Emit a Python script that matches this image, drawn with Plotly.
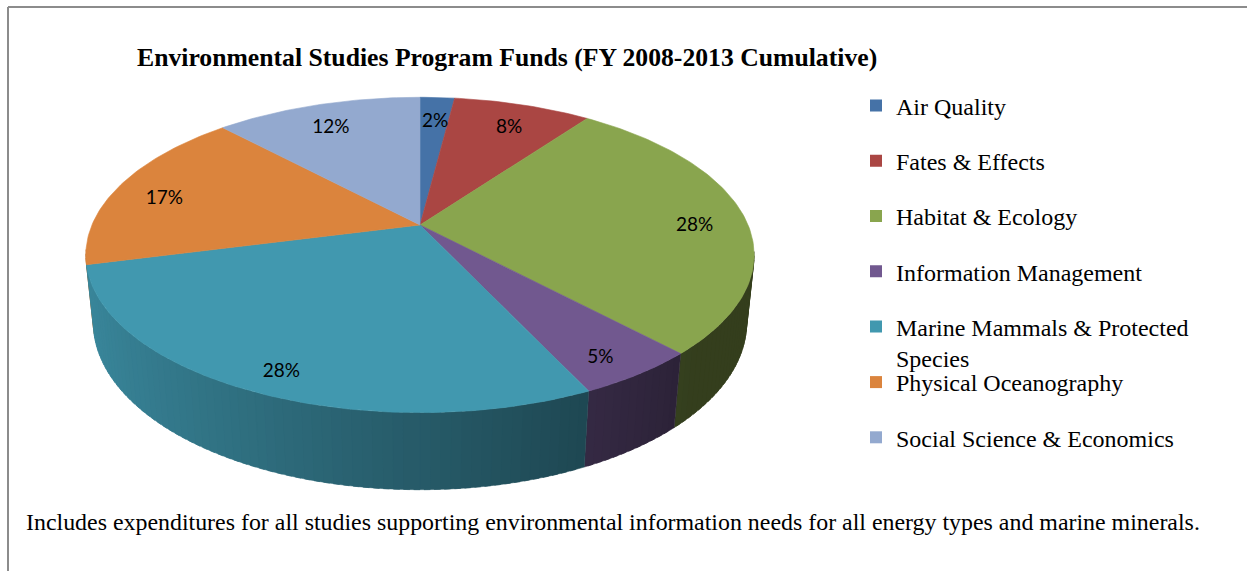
import numpy as np
import plotly.graph_objects as go

# ---------------- data ----------------
categories = ["Air Quality", "Fates & Effects", "Habitat & Ecology",
              "Information Management", "Marine Mammals & Protected Species",
              "Physical Oceanography", "Social Science & Economics"]
legend_names = ["Air Quality", "Fates & Effects", "Habitat & Ecology",
                "Information Management", "Marine Mammals & Protected<br>Species",
                "Physical Oceanography", "Social Science & Economics"]
values = [2, 8, 28, 5, 28, 17, 12]
colors = ["#4572A7", "#AA4643", "#89A54E", "#71588F", "#4198AF", "#DB843D", "#93A9CF"]

title_text = "Environmental Studies Program Funds (FY 2008-2013 Cumulative)"
note_text = ("Includes expenditures for all studies supporting environmental information "
             "needs for all energy types and marine minerals.")

# ---------------- 3-D pie projection (pixel-space axes) ----------------
W, H = 1247, 571
CX, CY = 420.0, 225.0      # projected pie centre
F = 1570.0                 # focal length
XS = 0.98                  # horizontal squeeze
D = 4.69                   # camera distance (pie radius = 1)
TILT = np.radians(27)      # viewing tilt
THICK = 0.229              # pie thickness
SA, CA = np.sin(TILT), np.cos(TILT)


def proj(X, Z, h=0.0):
    vert = Z * SA + h * CA
    depth = D - Z * CA + h * SA
    return CX + XS * F * X / depth, CY + F * vert / depth


def hex2rgb(c):
    c = c.lstrip("#")
    return [int(c[i:i + 2], 16) for i in (0, 2, 4)]


def shade(c, k):
    r, g, b = hex2rgb(c)
    return "rgb(%d,%d,%d)" % (r * k, g * k, b * k)


total = float(sum(values))
fr = np.array(values) / total
ends = np.cumsum(fr)
starts = ends - fr

fig = go.Figure()

# ---- side walls (painter's order: back to front) ----
segments = []
STEP = np.radians(1.5)
for i, (s, e) in enumerate(zip(starts, ends)):
    a0, a1 = 2 * np.pi * s, 2 * np.pi * e
    n = max(2, int(np.ceil((a1 - a0) / STEP)))
    th = np.linspace(a0, a1, n + 1)
    for j in range(n):
        t0, t1 = th[j], th[j + 1]
        tm = 0.5 * (t0 + t1)
        Zm = -np.cos(tm)
        if Zm < 0.18:
            continue
        t1e = min(t1 + 0.6 * STEP, a1)      # overlap to hide seams
        ts = np.linspace(t0, t1e, 4)
        X, Z = np.sin(ts), -np.cos(ts)
        tx, ty = proj(X, Z, 0.0)
        bx, by = proj(X, Z, THICK)
        px = list(tx) + list(bx[::-1]) + [tx[0]]
        py = list(ty) + list(by[::-1]) + [ty[0]]
        k = float(np.clip(0.6 - 0.3 * np.sin(tm), 0.38, 0.93))
        segments.append((Zm, px, py, shade(colors[i], k)))

segments.sort(key=lambda t: t[0])
for _, px, py, col in segments:
    fig.add_trace(go.Scatter(x=px, y=py, mode="lines", fill="toself",
                             fillcolor=col, line=dict(color=col, width=0.5),
                             hoverinfo="skip", showlegend=False))

# ---- top faces ----
for i, (s, e) in enumerate(zip(starts, ends)):
    a0, a1 = 2 * np.pi * s, 2 * np.pi * e
    n = max(3, int(np.ceil(np.degrees(a1 - a0))))
    th = np.linspace(a0, a1, n + 1)
    X, Z = np.sin(th), -np.cos(th)
    ax, ay = proj(X, Z)
    px = [CX] + list(ax) + [CX]
    py = [CY] + list(ay) + [CY]
    fig.add_trace(go.Scatter(x=px, y=py, mode="lines", fill="toself",
                             fillcolor=colors[i], line=dict(color=colors[i], width=0.6),
                             name=categories[i], hoverinfo="name", showlegend=False))

# ---- percentage labels ----
lx, ly, lt = [], [], []
for i, (s, e) in enumerate(zip(starts, ends)):
    tm = np.pi * (s + e)
    r = 0.85
    X, Z = r * np.sin(tm), -r * np.cos(tm)
    x, y = proj(X, Z, 0.03)
    lx.append(x)
    ly.append(y)
    lt.append("%d%%" % round(100 * values[i] / total))
fig.add_trace(go.Scatter(x=lx, y=ly, text=lt, mode="text",
                         textfont=dict(family="Lato", size=19, color="#000000"),
                         hoverinfo="skip", showlegend=False))

# ---- legend entries ----
for i, name in enumerate(legend_names):
    fig.add_trace(go.Scatter(x=[None], y=[None], mode="markers",
                             marker=dict(symbol="square", size=12, color=colors[i]),
                             name=name, legendgroup=categories[i],
                             legend="legend" if i < 5 else "legend2",
                             showlegend=True))

leg_font = dict(family="Liberation Serif", size=24, color="#000000")
leg_common = dict(xanchor="left", yanchor="top", font=leg_font, tracegroupgap=21,
                  valign="top", bgcolor="rgba(0,0,0,0)", borderwidth=0, itemwidth=30,
                  itemclick=False, itemdoubleclick=False)

fig.update_layout(
    width=W, height=H,
    margin=dict(l=0, r=0, t=0, b=0),
    paper_bgcolor="white", plot_bgcolor="white",
    xaxis=dict(range=[0, W], visible=False, fixedrange=True),
    yaxis=dict(range=[H, 0], visible=False, fixedrange=True),
    legend=dict(x=(896 - 40) / W, y=1 - 83.5 / H, **leg_common),
    legend2=dict(x=(896 - 40) / W, y=1 - 360 / H, **leg_common),
    annotations=[
        dict(text="<b>" + title_text + "</b>", x=507 / W, y=1 - 57 / H,
             xref="paper", yref="paper", xanchor="center", yanchor="middle",
             showarrow=False, font=dict(family="Liberation Serif", size=25.7, color="#000000")),
        dict(text=note_text, x=24 / W, y=1 - 522 / H,
             xref="paper", yref="paper", xanchor="left", yanchor="middle",
             showarrow=False, font=dict(family="Liberation Serif", size=23.9, color="#000000")),
    ],
    shapes=[
        dict(type="line", xref="paper", yref="paper", x0=8 / W, x1=1, y0=1 - 7 / H, y1=1 - 7 / H,
             line=dict(color="#8c8c8c", width=2)),
        dict(type="line", xref="paper", yref="paper", x0=8 / W, x1=8 / W, y0=1 - 7 / H, y1=0,
             line=dict(color="#8c8c8c", width=2)),
    ],
)

fig.write_html("out.html", config={"displayModeBar": False})
